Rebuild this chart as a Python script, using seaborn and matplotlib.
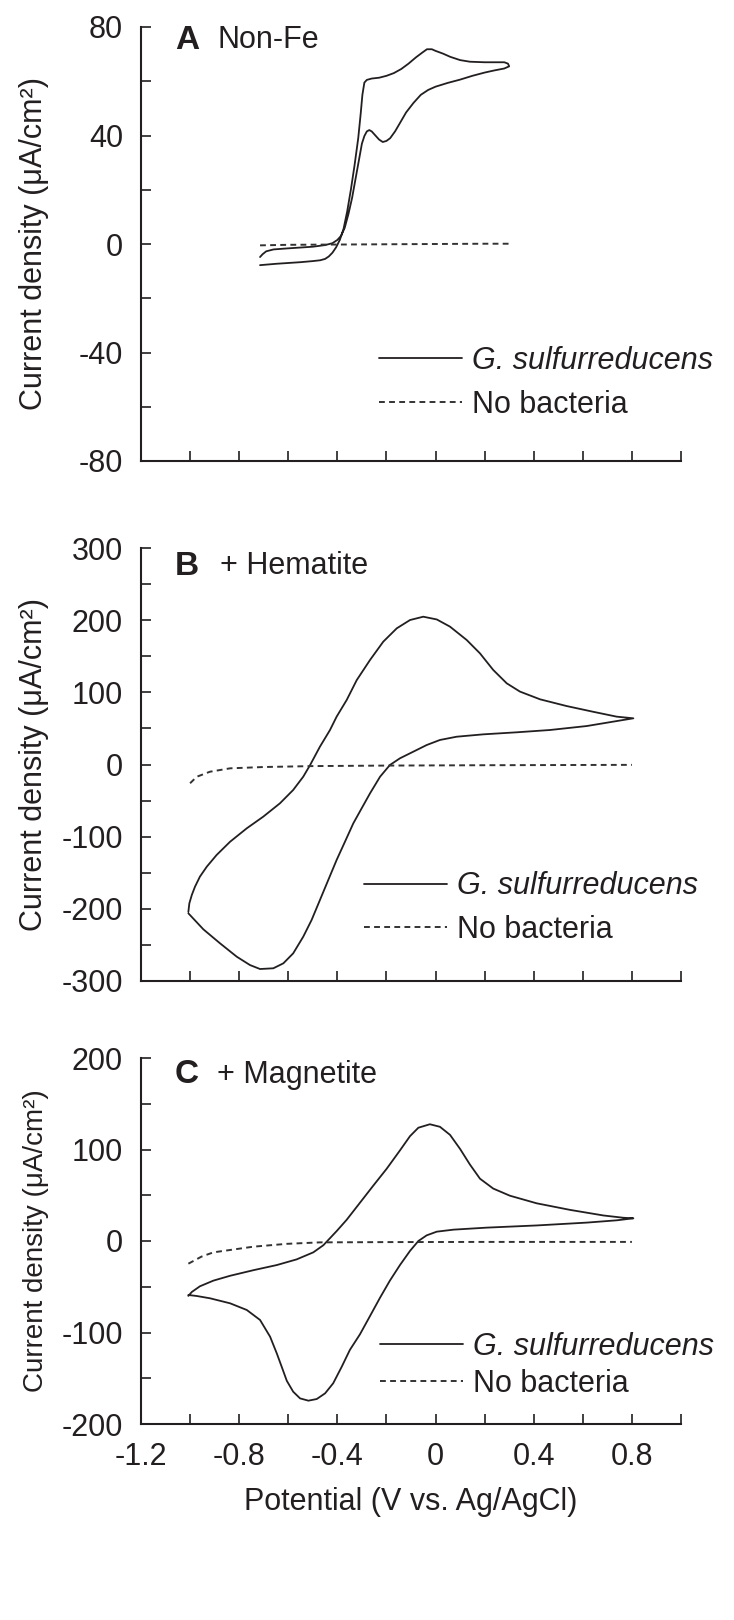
import matplotlib
matplotlib.use("Agg")
import matplotlib.pyplot as plt
import seaborn as sns
import pandas as pd

# ---- data ----
# Panel A: Non-Fe
a_bact_v = [-0.715, -0.65, -0.60, -0.55, -0.50, -0.47, -0.45, -0.435, -0.42, -0.405, -0.39, -0.375,
            -0.36, -0.345, -0.33, -0.315, -0.305, -0.298, -0.29, -0.28, -0.26, -0.23, -0.20, -0.17,
            -0.14, -0.11, -0.08, -0.055, -0.035, -0.015, 0.00, 0.03, 0.06, 0.10, 0.14, 0.20, 0.25,
            0.28, 0.295, 0.30,
            0.28, 0.24, 0.20, 0.15, 0.10, 0.05, 0.00, -0.03, -0.06, -0.09, -0.12, -0.145, -0.165,
            -0.185, -0.20, -0.215, -0.23, -0.245, -0.26, -0.27, -0.28, -0.29, -0.30, -0.31, -0.32,
            -0.33, -0.34, -0.355, -0.37, -0.385, -0.40, -0.42, -0.45, -0.50, -0.60, -0.66, -0.69,
            -0.705, -0.715]
a_bact_i = [-7.8, -7.3, -7.0, -6.7, -6.3, -6.0, -5.5, -4.6, -3.2, -1.2, 1.5, 5.5,
            12, 20, 29, 39, 48, 55, 59.5, 60.5, 61, 61.3, 62, 63,
            64.5, 66.5, 68.8, 70.5, 71.8, 71.8, 71.2, 70.2, 69, 67.8, 67.2, 67, 67,
            67, 66.5, 65.5,
            64.7, 64, 63.2, 62, 60.6, 59.4, 58, 56.8, 55, 52, 48.5, 44.6, 41.5,
            39, 38, 37.6, 38.5, 40, 41.5, 42, 41.5, 39.8, 37, 32, 27,
            22, 17, 11, 6, 3, 1.5, 0.3, -0.4, -1.0, -1.6, -2.0, -2.7,
            -3.8, -4.8]
a_none_v = [-0.715, -0.60, -0.40, -0.20, 0.00, 0.20, 0.30]
a_none_i = [-0.5, -0.3, -0.2, -0.1, 0.0, 0.1, 0.1]

# Panel B: + Hematite
b_bact_v = [-1.007, -1.003, -0.993, -0.980, -0.960, -0.932, -0.892, -0.837, -0.769, -0.702,
            -0.634, -0.580, -0.539, -0.511, -0.471, -0.430, -0.403, -0.362, -0.321, -0.267,
            -0.213, -0.158, -0.104, -0.050, 0.005, 0.059, 0.127, 0.181, 0.235, 0.290, 0.344,
            0.426, 0.534, 0.643, 0.738, 0.806,
            0.724, 0.616, 0.466, 0.330, 0.195, 0.086, 0.018, -0.036, -0.091, -0.145, -0.186,
            -0.226, -0.267, -0.301, -0.335, -0.369, -0.403, -0.437, -0.471, -0.505, -0.539,
            -0.580, -0.620, -0.661, -0.715, -0.756, -0.810, -0.878, -0.946, -1.007]
b_bact_i = [-204, -192.4, -180.8, -169.3, -155.4, -141.6, -125.4, -107, -88.4, -72.3,
            -53.8, -35.3, -16.9, -0.7, 24.7, 47.8, 66.3, 89.4, 117, 144.8,
            170.2, 188.7, 200.2, 204.8, 201, 191, 172.5, 154, 131, 112.5, 101,
            90.3, 81, 73, 66.3, 64,
            59.4, 53.3, 47.8, 44.6, 41.8, 38.5, 34, 27, 17.7, 8.6, -0.7,
            -16.9, -40, -60.7, -81.5, -107, -132.3, -160, -187.8, -215.5, -238.6,
            -261.7, -275.5, -282.4, -283.4, -277.9, -266.3, -247.8, -228.4, -206.2]
b_none_v = [-1.0, -0.973, -0.919, -0.837, -0.702, -0.50, -0.20, 0.20, 0.80]
b_none_i = [-26, -17, -10, -5.3, -3.5, -2.2, -1.5, -1, -0.5]

# Panel C: + Magnetite
c_bact_v = [-1.007, -0.993, -0.960, -0.905, -0.837, -0.742, -0.647, -0.566, -0.498, -0.457,
            -0.430, -0.403, -0.362, -0.308, -0.254, -0.199, -0.145, -0.104, -0.070, -0.023,
            0.018, 0.059, 0.100, 0.140, 0.181, 0.235, 0.303, 0.412, 0.548, 0.684, 0.765, 0.806,
            0.738, 0.616, 0.412, 0.208, 0.073, 0.005, -0.036, -0.070, -0.104, -0.145, -0.186,
            -0.226, -0.267, -0.308, -0.349, -0.382, -0.417, -0.450, -0.484, -0.518, -0.552,
            -0.580, -0.606, -0.627, -0.647, -0.674, -0.715, -0.769, -0.837, -0.919, -0.973,
            -1.007]
c_bact_i = [-60, -55.7, -49.5, -43.3, -38, -31.9, -26.3, -20.1, -12.4, -4.6,
            3.1, 10.8, 23.2, 41.8, 60.4, 79, 99, 114.6, 123.8, 127.6,
            124.8, 116, 100.6, 83.6, 68.1, 57.3, 49.5, 41.2, 34, 27.9, 25.4, 24.8,
            22.6, 20.1, 17, 14.6, 12.4, 10.2, 6.2, 0, -10.8, -26.3, -43.3,
            -61.9, -82, -102, -119, -137.3, -155.5, -166.5, -172.7, -174.5, -172,
            -164.7, -152.8, -137.3, -122.7, -104.6, -86.3, -75.4, -68.1, -62.6, -60.1,
            -59]
c_none_v = [-1.007, -0.953, -0.905, -0.742, -0.606, -0.471, -0.20, 0.20, 0.80]
c_none_i = [-24.8, -17, -12.4, -6.2, -3.1, -1.5, -1.2, -1, -1]

x_major = [-1.2, -0.8, -0.4, 0, 0.4, 0.8]
x_major_labels = ["-1.2", "-0.8", "-0.4", "0", "0.4", "0.8"]
x_minor = [-1.0, -0.6, -0.2, 0.2, 0.6, 1.0]

ink = "#231f20"
sns.set_style("ticks")
plt.rcParams["font.family"] = ["Liberation Sans", "DejaVu Sans"]
plt.rcParams["axes.unicode_minus"] = False
plt.rcParams["text.color"] = ink
plt.rcParams["axes.edgecolor"] = ink
plt.rcParams["xtick.color"] = ink
plt.rcParams["ytick.color"] = ink
plt.rcParams["axes.labelcolor"] = ink

fig = plt.figure(figsize=(7.34, 16.2), dpi=100)

left, width = 141 / 734, 540 / 734
axA = fig.add_axes([left, 1 - 461 / 1620, width, 434 / 1620])
axB = fig.add_axes([left, 1 - 981 / 1620, width, 433 / 1620])
axC = fig.add_axes([left, 1 - 1424 / 1620, width, 366 / 1620])


def panel(ax, bv, bi, nv, ni, ylim, ymaj, ymin, letter, name, leg_xy, lab_space, show_x,
          ylab_size=22):
    df_b = pd.DataFrame({"V": bv, "I": bi})
    df_n = pd.DataFrame({"V": nv, "I": ni})
    sns.lineplot(data=df_b, x="V", y="I", sort=False, estimator=None, ax=ax,
                 color=ink, lw=1.3, label="G. sulfurreducens")
    sns.lineplot(data=df_n, x="V", y="I", sort=False, estimator=None, ax=ax,
                 color="#333333", lw=1.4, linestyle=(0, (3, 2.2)), label="No bacteria")
    ax.set_xlim(-1.2, 1.0)
    ax.set_ylim(*ylim)
    sns.despine(ax=ax)
    for s in ["left", "bottom"]:
        ax.spines[s].set_linewidth(1.5)
    ax.set_xticks(x_major)
    ax.set_xticks(x_minor, minor=True)
    ax.set_yticks(ymaj)
    ax.set_yticks(ymin, minor=True)
    ax.tick_params(which="both", direction="in", length=7, width=1.2, labelsize=22, pad=13)
    if show_x:
        ax.set_xticklabels(x_major_labels)
        ax.set_xlabel("Potential (V vs. Ag/AgCl)", fontsize=22, labelpad=11)
    else:
        ax.set_xticklabels([])
        ax.set_xlabel("")
    ax.set_yticklabels([f"{v:g}" for v in ymaj])
    ax.set_ylabel("Current density (μA/cm²)", fontsize=ylab_size)
    ax.yaxis.set_label_coords(-0.171, 0.5)
    ax.text(0.063, letter[1], letter[0], transform=ax.transAxes, fontsize=24,
            fontweight="bold", va="center", ha="left")
    ax.text(name[1], letter[1], name[0], transform=ax.transAxes, fontsize=22,
            va="center", ha="left")
    leg = ax.legend(loc="center left", bbox_to_anchor=leg_xy, frameon=False, fontsize=22,
                    handlelength=2.7, handletextpad=0.35, borderpad=0, borderaxespad=0,
                    labelspacing=lab_space)
    leg.get_texts()[0].set_fontstyle("italic")


panel(axA, a_bact_v, a_bact_i, a_none_v, a_none_i, (-80, 80),
      [-80, -40, 0, 40, 80], [-60, -20, 20, 60], ("A", 0.970), ("Non-Fe", 0.141),
      (0.441, 0.180), 0.45, False)
panel(axB, b_bact_v, b_bact_i, b_none_v, b_none_i, (-300, 300),
      [-300, -200, -100, 0, 100, 200, 300], [-250, -150, -50, 50, 150, 250],
      ("B", 0.958), ("+ Hematite", 0.146), (0.413, 0.168), 0.45, False)
panel(axC, c_bact_v, c_bact_i, c_none_v, c_none_i, (-200, 200),
      [-200, -100, 0, 100, 200], [-150, -50, 50, 150],
      ("C", 0.954), ("+ Magnetite", 0.141), (0.443, 0.160), 0.22, True, ylab_size=20)

fig.savefig("out.png", dpi=100)
